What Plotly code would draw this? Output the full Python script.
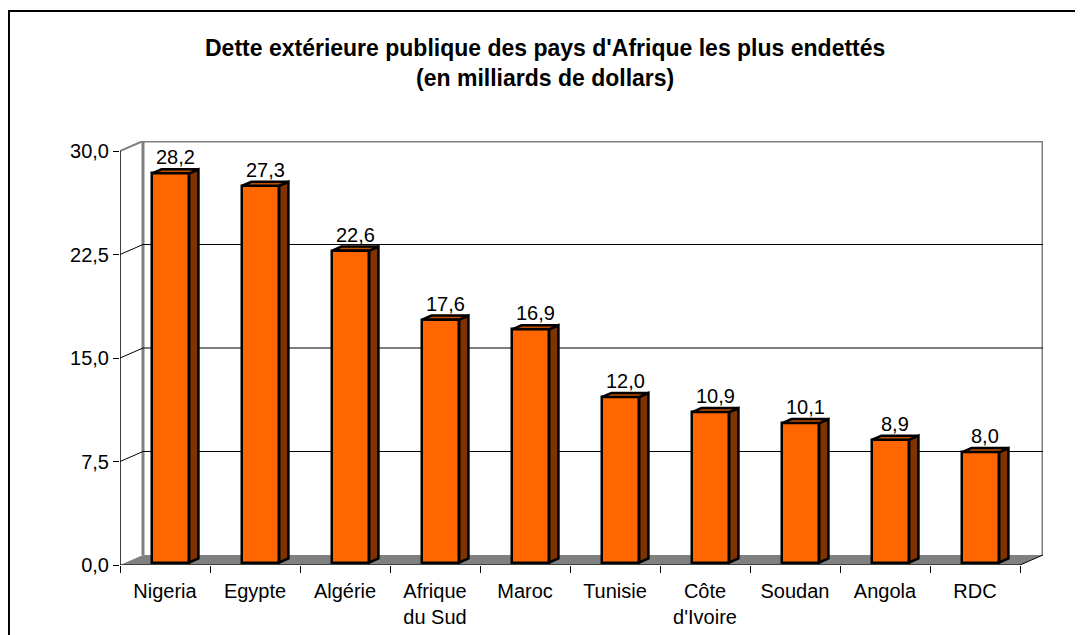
import plotly.graph_objects as go

pays = ["Nigeria", "Egypte", "Algérie", "Afrique<br>du Sud", "Maroc", "Tunisie",
        "Côte<br>d'Ivoire", "Soudan", "Angola", "RDC"]
dette = [28.2, 27.3, 22.6, 17.6, 16.9, 12.0, 10.9, 10.1, 8.9, 8.0]
graduations = [0, 7.5, 15, 22.5, 30]
etiquettes = ["0,0", "7,5", "15,0", "22,5", "30,0"]

# perspective (3D look): depth vector in axis units
DX = 23 / 90
DY = 10 / 13.8
BAR_W = 37 / 90
F0, F1 = 0.25, 0.65  # bar front / back as fraction of depth

ORANGE = "#FF6600"
SIDE = "#7F3300"
TOP = "#C05000"
GREY = "#808080"
FONT = "Liberation Sans, Arial, sans-serif"

n = len(dette)
centres = [i + 0.5 for i in range(n)]
x0s = [c - BAR_W / 2 + F0 * DX for c in centres]
base = F0 * DY

fig = go.Figure()

shapes = []
# floor
shapes.append(dict(type="path", path=f"M0,0 L{n},0 L{n + DX},{DY} L{DX},{DY} Z",
                   fillcolor=GREY, line=dict(width=0), layer="below"))
# back wall
shapes.append(dict(type="path",
                   path=f"M{DX},{DY} L{DX},{30 + DY} L{n + DX},{30 + DY} L{n + DX},{DY}",
                   line=dict(color=GREY, width=3), layer="below"))
shapes.append(dict(type="line", x0=0, y0=30, x1=DX, y1=30 + DY,
                   line=dict(color=GREY, width=2), layer="below"))
for g in graduations[1:-1]:
    shapes.append(dict(type="path", path=f"M0,{g} L{DX},{g + DY} L{n + DX},{g + DY}",
                       line=dict(color="black", width=1), layer="below"))
# front axes
shapes.append(dict(type="line", x0=0, y0=0, x1=0, y1=30, line=dict(color="black", width=1.5)))
shapes.append(dict(type="path", path=f"M0,0 L{n},0 L{n + DX},{DY}",
                   line=dict(color="black", width=1)))

fig.add_trace(go.Bar(
    x=centres, y=dette, base=base, width=BAR_W, offset=-BAR_W / 2 + F0 * DX,
    marker=dict(color=ORANGE, line=dict(color="black", width=2.5)),
    hoverinfo="skip",
))

# side and top faces of each bar
d = F1 - F0
for x0, v in zip(x0s, dette):
    x1 = x0 + BAR_W
    top = base + v
    shapes.append(dict(type="path",
                       path=f"M{x1},{base} L{x1},{top} L{x1 + d * DX},{top + d * DY} L{x1 + d * DX},{base + d * DY} Z",
                       fillcolor=SIDE, line=dict(color="black", width=2.5), layer="above"))
    shapes.append(dict(type="path",
                       path=f"M{x0},{top} L{x1},{top} L{x1 + d * DX},{top + d * DY} L{x0 + d * DX},{top + d * DY} Z",
                       fillcolor=TOP, line=dict(color="black", width=2.5), layer="above"))

annotations = []
for x0, v in zip(x0s, dette):
    annotations.append(dict(x=x0 + BAR_W / 2 + d * DX / 2, y=base + v + d * DY,
                            text=f"{v:.1f}".replace(".", ","), showarrow=False,
                            yanchor="bottom", yshift=-1,
                            font=dict(family=FONT, size=20, color="black")))
annotations.append(dict(x=0.4605, y=1.184, xref="paper", yref="paper", showarrow=False,
                        yanchor="middle",
                        text="<b>Dette extérieure publique des pays d'Afrique les plus endettés<br>(en milliards de dollars)</b>",
                        font=dict(family=FONT, size=23, color="black")))

# outer chart border
shapes.append(dict(type="rect", xref="paper", yref="paper", x0=-0.1203, x1=1.2, y0=-0.3, y1=1.3066,
                   line=dict(color="black", width=2), fillcolor="rgba(0,0,0,0)"))

fig.update_layout(
    width=1100, height=650, autosize=False,
    margin=dict(l=112, r=65, t=133, b=93),
    paper_bgcolor="white", plot_bgcolor="white",
    showlegend=False, bargap=0,
    shapes=shapes, annotations=annotations,
    font=dict(family=FONT, size=20, color="black"),
    xaxis=dict(range=[0, n + DX], tickvals=centres, ticktext=pays, ticks="",
               ticklabelstandoff=12,
               showgrid=False, zeroline=False, showline=False, fixedrange=True),
    xaxis2=dict(range=[0, n + DX], tickvals=list(range(n + 1)), ticks="outside",
                ticklen=7, tickcolor="black", showticklabels=False, overlaying="x",
                side="bottom", showgrid=False, zeroline=False, showline=False),
    yaxis=dict(range=[0, 30 + DY], tickvals=graduations, ticktext=etiquettes,
               ticks="outside", ticklen=6, tickcolor="black", showgrid=False,
               zeroline=False, showline=False),
)
fig.add_trace(go.Scatter(x=[0], y=[0], xaxis="x2", mode="markers",
                         marker=dict(opacity=0), hoverinfo="skip"))

fig.write_html("out.html")
